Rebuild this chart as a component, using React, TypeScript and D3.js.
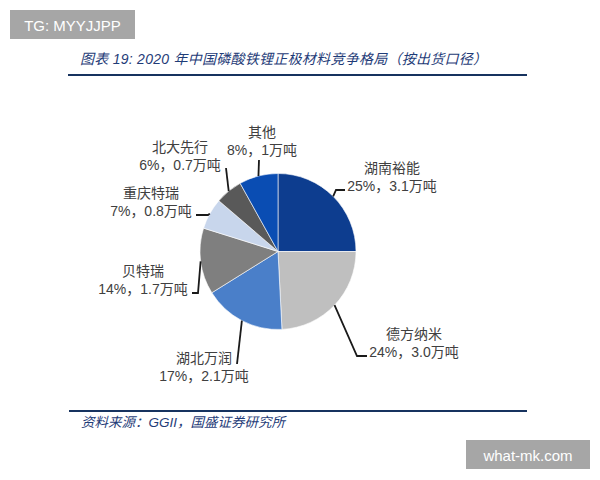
import React from "react";
import * as d3 from "d3";

const companies = ["湖南裕能", "德方纳米", "湖北万润", "贝特瑞", "重庆特瑞", "北大先行", "其他"];
const tonnage = [3.1, 3.0, 2.1, 1.7, 0.8, 0.7, 1.0];
const shareLabels = ["25%，3.1万吨", "24%，3.0万吨", "17%，2.1万吨", "14%，1.7万吨", "7%，0.8万吨", "6%，0.7万吨", "8%，1万吨"];
const sliceColors = ["#0d3d8f", "#bfbfbf", "#4a7fc9", "#7f7f7f", "#c8d6ec", "#595959", "#0a4db3"];

const titleText = "图表 19:  2020 年中国磷酸铁锂正极材料竞争格局（按出货口径）";
const sourceText = "资料来源：GGII，国盛证券研究所";

// layout (annotation positions, not data)
const labelPos = [
  { x: 392, y: 168, path: [[336, 190], [345, 190]] },
  { x: 414, y: 334, path: [[357, 356], [367, 356]] },
  { x: 204, y: 358, path: [[237, 364]] },
  { x: 143, y: 271, path: [[198, 293], [192, 293]] },
  { x: 151, y: 193, path: [[208, 215], [196, 215]] },
  { x: 180, y: 147, path: [[226, 168]] },
  { x: 262, y: 132, path: [[259, 160]] },
];

export default function App() {
  const cx = 278, cy = 251.5, r = 78;
  const pie = d3.pie<number>().sort(null).value((d) => d);
  const arcs = pie(tonnage);
  const arc = d3.arc<d3.PieArcDatum<number>>().innerRadius(0).outerRadius(r);
  const line = d3.line();
  const font = "'Liberation Sans', 'Noto Sans CJK SC', sans-serif";
  return (
    <svg width={600} height={480} style={{ position: "absolute", left: 0, top: 0, background: "#fff" }}>
      <rect x={10} y={10} width={125} height={29} fill="#a6a6a6" />
      <text x={72.5} y={25} fill="#fff" fontSize={15} textAnchor="middle" dominantBaseline="central" fontFamily="'Liberation Sans', Arial, sans-serif">TG: MYYJJPP</text>

      <text x={80} y={59} fill="#1f3c78" fontSize={14} fontStyle="italic" dominantBaseline="central" fontFamily={font} textLength={407} lengthAdjust="spacing">{titleText}</text>
      <line x1={68} x2={527} y1={75} y2={75} stroke="#17335f" strokeWidth={2} />

      <g transform={`translate(${cx},${cy})`}>
        {arcs.map((a, i) => (
          <path key={i} d={arc(a) as string} fill={sliceColors[i]} stroke="#ffffff" strokeWidth={0.6} />
        ))}
      </g>

      {arcs.map((a, i) => {
        const mid = (a.startAngle + a.endAngle) / 2;
        const start: [number, number] = [cx + r * Math.sin(mid), cy - r * Math.cos(mid)];
        const pts = [start, ...(labelPos[i].path as [number, number][])];
        return <path key={"l" + i} d={line(pts) as string} fill="none" stroke="#1a1a1a" strokeWidth={1.8} />;
      })}

      {companies.map((c, i) => (
        <g key={"t" + i} fontFamily={font} fontSize={14} fill="#404040" textAnchor="middle">
          <text x={labelPos[i].x} y={labelPos[i].y} dominantBaseline="central">{c}</text>
          <text x={labelPos[i].x} y={labelPos[i].y + 18} dominantBaseline="central">{shareLabels[i]}</text>
        </g>
      ))}

      <line x1={69} x2={527} y1={411} y2={411} stroke="#17335f" strokeWidth={2} />
      <text x={81} y={422} fill="#1f3c78" fontSize={13.5} fontStyle="italic" dominantBaseline="central" fontFamily={font}>{sourceText}</text>

      <rect x={466} y={440} width={124} height={29} fill="#a6a6a6" />
      <text x={528} y={455} fill="#fff" fontSize={15} textAnchor="middle" dominantBaseline="central" fontFamily="'Liberation Sans', Arial, sans-serif">what-mk.com</text>
    </svg>
  );
}
